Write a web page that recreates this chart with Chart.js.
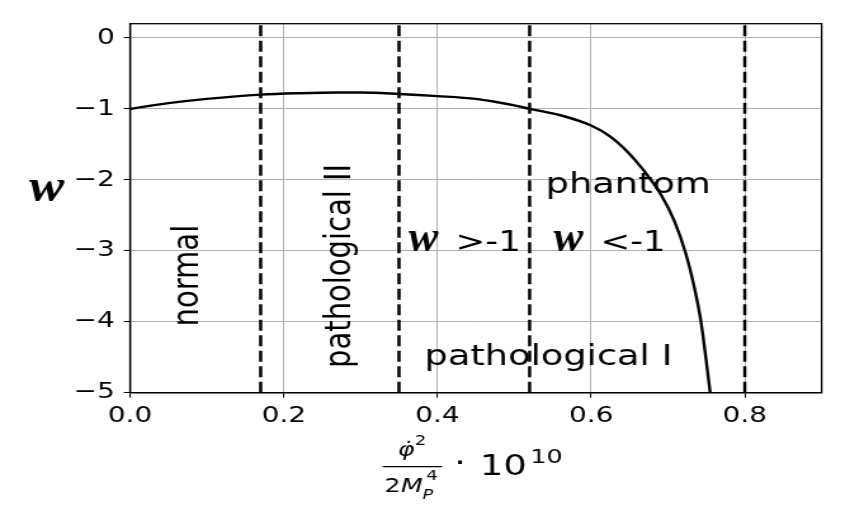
<!DOCTYPE html>
<html>
<head>
<meta charset="utf-8">
<script src="https://cdn.jsdelivr.net/npm/chart.js@4.4.1/dist/chart.umd.min.js"></script>
<style>
  html, body { margin: 0; padding: 0; background: #fff; overflow: hidden; }
  /* the source figure is stretched sideways, so draw narrow and stretch */
  #wrap { width: 670px; height: 523px; transform: scaleX(1.2687); transform-origin: 0 0; }
</style>
</head>
<body>
<div id="wrap"><canvas id="chart" width="670" height="523"></canvas></div>
<script>
// curve w(x)
const curveX = [0, 0.05, 0.1, 0.17, 0.22, 0.27, 0.3, 0.35, 0.4, 0.45, 0.48, 0.5, 0.52, 0.56, 0.6, 0.625, 0.647, 0.669, 0.691, 0.708, 0.723, 0.734, 0.743, 0.755];
const curveW = [-1, -0.92, -0.86, -0.80, -0.78, -0.77, -0.77, -0.79, -0.82, -0.86, -0.91, -0.95, -1.0, -1.09, -1.235, -1.39, -1.60, -1.875, -2.21, -2.57, -3.03, -3.50, -4.0, -5.0];

// dashed region borders
const dividerX = [0.17, 0.35, 0.52, 0.8];

// axes
const xMin = 0, xMax = 0.9, xStep = 0.2;
const yMin = -5, yMax = 0.2, yStep = 1;
const xTickLabels = ['0.0', '0.2', '0.4', '0.6', '0.8'];
const yTickLabels = ['\u22125', '\u22124', '\u22123', '\u22122', '\u22121', '0'];

// region names (data coords)
const regionText = ['normal', 'pathological II', 'phantom', 'pathological I'];
const regionX = [0.089, 0.2866, 0.5407, 0.383];
const regionY = [-3.35, -3.213, -2.19, -4.61];
const regionRot = [true, true, false, false];

// "w >-1" / "w <-1"
const wLabelX = [0.3626, 0.5511];
const wLabelY = -3.01;
const wLabelText = ['>-1', '<-1'];

const SANS = '"DejaVu Sans", sans-serif';
const SERIF = '"Liberation Serif", "DejaVu Serif", serif';

const datasets = [{
  data: curveX.map((x, i) => ({ x: x, y: curveW[i] })),
  showLine: true,
  borderColor: '#000',
  borderWidth: 2.4,
  pointRadius: 0,
  cubicInterpolationMode: 'monotone'
}];
dividerX.forEach(x => {
  datasets.push({
    data: [{ x: x, y: yMin }, { x: x, y: yMax }],
    showLine: true,
    borderColor: '#000',
    borderWidth: 2.5,
    borderDash: [11, 4.5],
    pointRadius: 0
  });
});

// narrow math "w"
function drawW(ctx, x, y, size, sx) {
  ctx.save();
  ctx.font = 'bold italic ' + size + 'px ' + SERIF;
  ctx.textAlign = 'left';
  ctx.translate(x, y);
  ctx.scale(sx, 1);
  ctx.fillText('w', 0, 0);
  ctx.restore();
}

const textPlugin = {
  id: 'textPlugin',
  afterDatasetsDraw(chart) {
    const ctx = chart.ctx;
    const a = chart.chartArea;
    const sx = chart.scales.x, sy = chart.scales.y;
    ctx.save();
    ctx.strokeStyle = '#000';
    ctx.lineWidth = 1.3;
    ctx.strokeRect(a.left, a.top, a.right - a.left, a.bottom - a.top);

    ctx.fillStyle = '#000';
    ctx.font = '29px ' + SANS;
    ctx.textBaseline = 'alphabetic';
    regionText.forEach((t, i) => {
      const px = sx.getPixelForValue(regionX[i]);
      const py = sy.getPixelForValue(regionY[i]);
      if (regionRot[i]) {
        ctx.save();
        ctx.translate(px, py);
        ctx.rotate(-Math.PI / 2);
        ctx.textAlign = 'center';
        ctx.fillText(t, 0, 0);
        ctx.restore();
      } else {
        ctx.textAlign = 'left';
        ctx.fillText(t, px, py);
      }
    });

    wLabelX.forEach((x, i) => {
      const px = sx.getPixelForValue(x);
      const py = sy.getPixelForValue(wLabelY);
      drawW(ctx, px, py, 44, 0.8);
      ctx.textAlign = 'left';
      ctx.font = '28px ' + SANS;
      ctx.fillText(wLabelText[i], px + 37, py);
    });
    ctx.restore();
  },
  afterDraw(chart) {
    const ctx = chart.ctx;
    ctx.save();
    ctx.fillStyle = '#000';
    ctx.strokeStyle = '#000';
    ctx.textBaseline = 'alphabetic';

    // y title
    drawW(ctx, 23, 201, 47, 0.88);

    // x title: phi-dot^2 / (2 M_P^4) . 10^10
    ctx.textAlign = 'center';
    ctx.font = 'italic 20px ' + SANS;
    ctx.fillText('\u03c6\u0307', 320, 456);
    ctx.font = '14px ' + SANS;
    ctx.textAlign = 'left';
    ctx.fillText('2', 327, 445);

    ctx.lineWidth = 1.3;
    ctx.beginPath();
    ctx.moveTo(301.6, 466.7);
    ctx.lineTo(348.4, 466.7);
    ctx.stroke();

    ctx.font = '20px ' + SANS;
    ctx.fillText('2', 303, 491.7);
    ctx.font = 'italic 20px ' + SANS;
    ctx.fillText('M', 316, 491.7);
    ctx.font = '14px ' + SANS;
    ctx.fillText('4', 336, 480);
    ctx.font = 'italic 14px ' + SANS;
    ctx.fillText('P', 333, 499);

    ctx.font = '29px ' + SANS;
    ctx.textAlign = 'center';
    ctx.fillText('\u00b7', 362.6, 472);
    ctx.textAlign = 'left';
    ctx.fillText('10', 378.3, 475);
    ctx.font = '20px ' + SANS;
    ctx.fillText('10', 418, 463);
    ctx.restore();
  }
};

new Chart(document.getElementById('chart'), {
  type: 'scatter',
  data: { datasets: datasets },
  options: {
    responsive: false,
    animation: false,
    layout: { padding: { left: 0, right: 22.4, top: 23.7, bottom: 0 } },
    plugins: { legend: { display: false }, tooltip: { enabled: false } },
    scales: {
      x: {
        type: 'linear',
        min: xMin, max: xMax,
        afterFit: s => { s.height = 130.3; },
        border: { display: true, color: '#000', width: 1.3 },
        grid: { color: '#b0b0b0', lineWidth: 1, tickColor: '#000', tickLength: 5 },
        ticks: {
          stepSize: xStep, includeBounds: false, autoSkip: false, maxRotation: 0,
          padding: 5, color: '#000', font: { family: SANS, size: 22 },
          callback: (v, i) => xTickLabels[i]
        }
      },
      y: {
        type: 'linear',
        min: yMin, max: yMax,
        afterFit: s => { s.width = 102.5; },
        border: { display: true, color: '#000', width: 1.3 },
        grid: { color: '#b0b0b0', lineWidth: 1, tickColor: '#000', tickLength: 5 },
        ticks: {
          stepSize: yStep, includeBounds: false, autoSkip: false,
          padding: 7, color: '#000', font: { family: SANS, size: 22 },
          callback: (v, i) => yTickLabels[i]
        }
      }
    }
  },
  plugins: [textPlugin]
});
</script>
</body>
</html>
